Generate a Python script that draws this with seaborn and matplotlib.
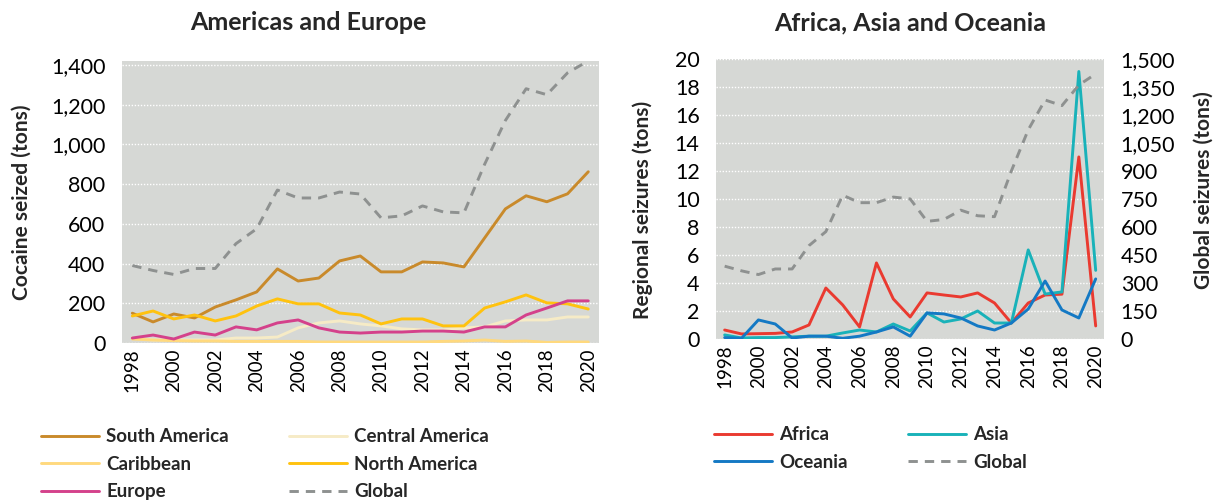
import matplotlib

matplotlib.use("Agg")

import matplotlib.pyplot as plt
import matplotlib.ticker as mticker
import numpy as np
import pandas as pd
import seaborn as sns

years = list(range(1998, 2021))

# Americas and Europe (tons)
south_america = [150, 106, 146, 126, 181, 217, 257, 373, 312, 327, 413, 438, 358,
                 358, 408, 403, 383, 529, 675, 741, 711, 751, 862]
central_america = [25, 15, 15, 15, 15, 25, 25, 30, 76, 101, 111, 96, 86,
                   71, 66, 66, 76, 81, 111, 116, 116, 131, 131]
caribbean = [20, 15, 12, 10, 10, 8, 8, 8, 8, 5, 5, 5, 5,
             5, 5, 8, 10, 15, 8, 10, 3, 5, 5]
north_america = [136, 161, 121, 141, 111, 136, 186, 222, 197, 197, 151, 141, 96,
                 121, 121, 86, 86, 176, 207, 242, 202, 197, 171]
europe = [25, 40, 20, 55, 40, 81, 66, 101, 116, 76, 55, 50, 55,
          55, 60, 60, 55, 81, 81, 141, 176, 212, 212]
global_total = [390, 365, 345, 375, 375, 500, 575, 770, 730, 730, 760, 750, 630,
                640, 690, 660, 655, 900, 1120, 1280, 1250, 1360, 1420]

# Africa, Asia and Oceania (tons)
africa = [0.64, 0.36, 0.38, 0.4, 0.5, 1.0, 3.64, 2.43, 0.86, 5.43, 2.86, 1.57, 3.29,
          3.14, 3.0, 3.29, 2.57, 1.14, 2.57, 3.14, 3.2, 13.0, 0.93]
asia = [0.29, 0.07, 0.1, 0.1, 0.15, 0.2, 0.2, 0.43, 0.64, 0.5, 1.07, 0.57, 1.86,
        1.21, 1.43, 2.0, 1.14, 1.14, 6.36, 3.21, 3.36, 19.1, 4.9]
oceania = [0.1, 0.05, 1.36, 1.07, 0.07, 0.2, 0.2, 0.05, 0.2, 0.5, 0.86, 0.2, 1.86,
           1.79, 1.5, 0.93, 0.64, 1.14, 2.14, 4.14, 2.07, 1.5, 4.29]

left_series = [
    ("South America", south_america, "#c98a2b"),
    ("Central America", central_america, "#f6ebc6"),
    ("Caribbean", caribbean, "#ffd97e"),
    ("North America", north_america, "#ffc20f"),
    ("Europe", europe, "#d4418b"),
]
right_series = [
    ("Africa", africa, "#ea3a30"),
    ("Asia", asia, "#19b2b9"),
    ("Oceania", oceania, "#1479c4"),
]
global_color = "#8e9190"
bg = "#d6d8d5"

sns.set_style("white")
plt.rcParams["font.family"] = ["Lato", "DejaVu Sans"]

fig = plt.figure(figsize=(12.16, 5.01), dpi=100)
ax1 = fig.add_axes([0.1003, 0.3154, 0.392, 0.563])
ax2 = fig.add_axes([0.589, 0.3234, 0.319, 0.559])
ax2b = ax2.twinx()

lw = 2.1
dash = (3.2, 2.4)
ytick_size = 15.5
label_font = {"fontsize": 15, "fontweight": "bold"}


def style_axes(ax):
    ax.set_facecolor(bg)
    for s in ax.spines.values():
        s.set_visible(False)
    ax.grid(axis="y", color="white", linestyle=(0, (1, 1.2)), linewidth=1.0)
    ax.grid(axis="x", visible=False)
    ax.set_axisbelow(True)
    ax.tick_params(axis="y", length=0, labelsize=ytick_size, colors="black", pad=12)
    ax.tick_params(axis="x", length=0, labelsize=13.5, colors="black", pad=4)
    ax.set_xlim(1997.5, 2020.5)
    ax.set_xticks(years[::2])
    ax.set_xticklabels([str(y) for y in years[::2]], rotation=90)
    ax.set_xlabel("")


# left panel
style_axes(ax1)
sns.lineplot(x=years, y=global_total, ax=ax1, color=global_color, linewidth=lw,
             label="Global")
ax1.lines[-1].set_dashes(dash)
for name, vals, col in left_series:
    sns.lineplot(x=years, y=vals, ax=ax1, color=col, linewidth=lw, label=name)
ax1.set_ylim(0, 1420)
ax1.set_yticks(range(0, 1401, 200))
ax1.yaxis.set_major_formatter(mticker.StrMethodFormatter("{x:,.0f}"))
ax1.set_ylabel("Cocaine seized (tons)", **label_font)
ax1.yaxis.set_label_coords(-0.1887, 0.5)
ax1.get_legend().remove()

# right panel
style_axes(ax2)
for name, vals, col in right_series:
    sns.lineplot(x=years, y=vals, ax=ax2, color=col, linewidth=lw, label=name)
ax2.set_ylim(0, 20)
ax2.set_yticks(range(0, 21, 2))
ax2.set_ylabel("Regional seizures (tons)", **label_font)
ax2.yaxis.set_label_coords(-0.162, 0.46)
ax2.get_legend().remove()

sns.lineplot(x=years, y=global_total, ax=ax2b, color=global_color, linewidth=lw,
             label="Global")
ax2b.lines[-1].set_dashes(dash)
ax2b.set_ylim(0, 1500)
ax2b.set_yticks(range(0, 1501, 150))
ax2b.yaxis.set_major_formatter(mticker.StrMethodFormatter("{x:,.0f}"))
ax2b.tick_params(length=0, labelsize=ytick_size, colors="black", pad=12)
for s in ax2b.spines.values():
    s.set_visible(False)
ax2b.grid(False)
ax2b.set_ylabel("Global seizures (tons)", **label_font)
ax2b.yaxis.set_label_coords(1.232, 0.532)
ax2b.get_legend().remove()
ax2.set_zorder(ax2b.get_zorder() - 1)
ax2b.patch.set_visible(False)
ax2.set_xlim(1997.5, 2020.5)

# titles
fig.text(308 / 1216, 1 - 23 / 501, "Americas and Europe", ha="center", va="center",
         fontsize=18, fontweight="bold")
fig.text(910 / 1216, 1 - 23 / 501, "Africa, Asia and Oceania", ha="center", va="center",
         fontsize=18, fontweight="bold")

# legends
leg_kw = dict(loc="upper left", ncol=2, frameon=False, borderaxespad=0,
              prop={"size": 13.5, "weight": "bold"}, handlelength=3.1,
              labelspacing=0.55, handletextpad=0.4)
h1 = {l.get_label(): l for l in ax1.lines}
order1 = ["South America", "Caribbean", "Europe", "Central America", "North America", "Global"]
fig.legend([h1[k] for k in order1], order1, bbox_to_anchor=(33 / 1216, 1 - 421 / 501),
           columnspacing=3.2, **leg_kw)

h2 = {l.get_label(): l for l in ax2.lines + ax2b.lines}
order2 = ["Africa", "Oceania", "Asia", "Global"]
fig.legend([h2[k] for k in order2], order2, bbox_to_anchor=(706 / 1216, 1 - 419 / 501),
           columnspacing=3.2, **leg_kw)

fig.savefig("out.png", dpi=100)
